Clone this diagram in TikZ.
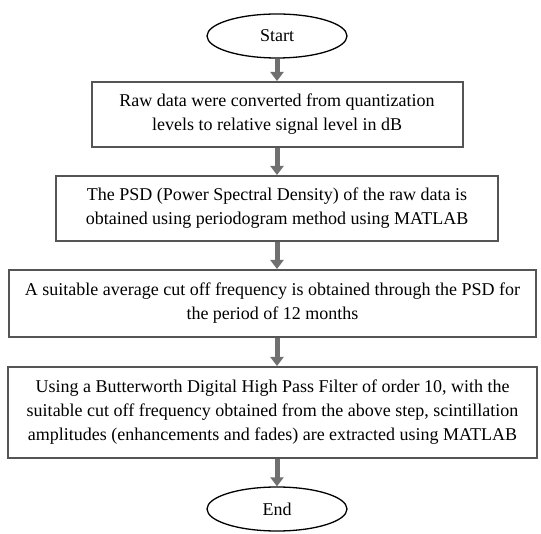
\documentclass[tikz,border=0pt]{standalone}
\usepackage{fontspec}
\setmainfont{Liberation Serif}
\usetikzlibrary{shapes.geometric,arrows.meta}
\definecolor{framegray}{HTML}{555555}
\definecolor{arrowgray}{HTML}{707070}
\tikzstyle{terminal}=[ellipse,draw=black,line width=1.3pt,minimum width=140pt,minimum height=44pt,inner sep=0pt,font=\fontsize{18}{24}\selectfont]
\tikzstyle{process}=[rectangle,draw=framegray,line width=2pt,inner sep=0pt,align=center,font=\fontsize{18}{24}\selectfont]
\tikzstyle{flow}=[arrowgray,line width=5pt,-{Triangle[width=13pt,length=9pt]}]

\begin{document}
\begin{tikzpicture}[x=1pt,y=-1pt]
\useasboundingbox (0,0) rectangle (541,534);
\node[terminal] at (277, 36) (start) {Start};
\node[process, minimum width=371pt, minimum height=65pt] at (277, 114.5) (raw) {Raw data were converted from quantization\\levels to relative signal level in dB};
\node[process, minimum width=442pt, minimum height=65pt] at (277, 208.5) (psd) {The PSD (Power Spectral Density) of the raw data is\\obtained using periodogram method using MATLAB};
\node[process, minimum width=527pt, minimum height=67pt] at (272.5, 303.5) (cutoff) {A suitable average cut off frequency is obtained through the PSD for\\the period of 12 months};
\node[process, minimum width=529pt, minimum height=91pt] at (272.5, 412.5) (filter) {Using a Butterworth Digital High Pass Filter of order 10, with the\\suitable cut off frequency obtained from the above step, scintillation\\amplitudes (enhancements and fades) are extracted using MATLAB};
\node[terminal] at (277, 509) (stop) {End};
\draw[flow] (start.south) -- (start.south |- raw.north);
\draw[flow] (raw.south) -- (raw.south |- psd.north);
\draw[flow] (psd.south) -- (psd.south |- cutoff.north);
\draw[flow] (psd.south |- cutoff.south) -- (psd.south |- filter.north);
\draw[flow] (stop.north |- filter.south) -- (stop.north);
\end{tikzpicture}
\end{document}
